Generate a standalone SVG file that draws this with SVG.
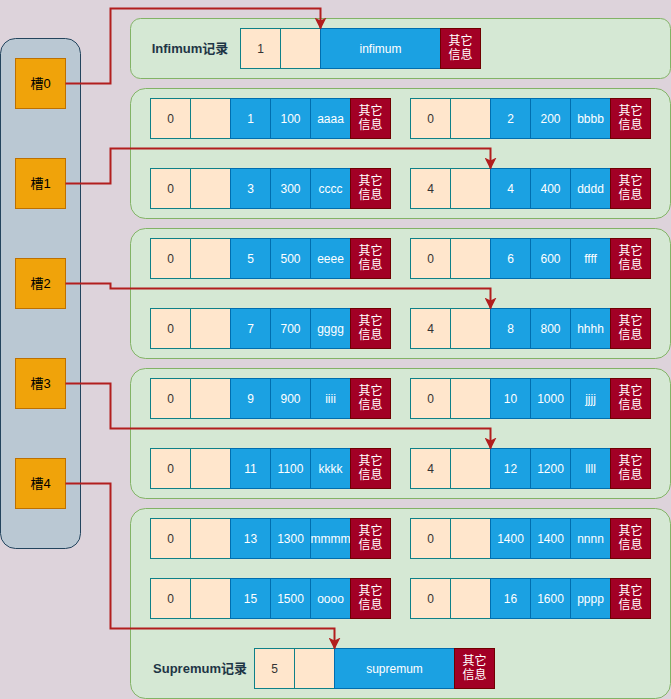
<svg xmlns="http://www.w3.org/2000/svg" width="671" height="699" viewBox="0 0 671 699">
<defs>
<style>
text{font-family:"Liberation Sans","Noto Sans CJK SC",sans-serif;font-size:12px;text-anchor:middle}
.bg{fill:#DDD3DB}
.grp{fill:#d5e8d4;stroke:#82b366;stroke-width:1}
.cont{fill:#bac8d3;stroke:#23445d;stroke-width:1}
.slot{fill:#f0a30a;stroke:#BD7000;stroke-width:1}
.c{fill:#ffe6cc;stroke:#0e8088;stroke-width:1}
.b{fill:#1ba1e2;stroke:#006eaf;stroke-width:1}
.r{fill:#a20025;stroke:#6f0000;stroke-width:1}
.td{fill:#333333}
.tw{fill:#ffffff}
.tl{fill:#1e3545;font-weight:bold;font-size:13px}
.ts{fill:#000000;font-size:13px}
.con{fill:none;stroke:#B21E1E;stroke-width:2;marker-end:url(#arr)}
</style>
<marker id="arr" markerUnits="userSpaceOnUse" markerWidth="12" markerHeight="12" viewBox="0 0 12 12" refX="11" refY="6" orient="auto">
<path d="M0,0 L12,6 L0,12 L3,6 z" fill="#B21E1E"/>
</marker>
</defs>
<rect class="bg" x="0" y="0" width="671" height="699"/>

<g id="slots-container"><rect class="cont" x="0.5" y="38.5" width="80" height="510" rx="15"/></g>
<g id="slot0"><rect class="slot" x="15.5" y="58.5" width="50" height="50"/><text class="ts" x="40.5" y="88">槽0</text></g>
<g id="slot1"><rect class="slot" x="15.5" y="158.5" width="50" height="50"/><text class="ts" x="40.5" y="188">槽1</text></g>
<g id="slot2"><rect class="slot" x="15.5" y="258.5" width="50" height="50"/><text class="ts" x="40.5" y="288">槽2</text></g>
<g id="slot3"><rect class="slot" x="15.5" y="358.5" width="50" height="50"/><text class="ts" x="40.5" y="388">槽3</text></g>
<g id="slot4"><rect class="slot" x="15.5" y="458.5" width="50" height="50"/><text class="ts" x="40.5" y="488">槽4</text></g>

<g id="infimum-group">
<rect class="grp" x="130.5" y="18.5" width="540" height="60" rx="10"/>
<text class="tl" x="190" y="53">Infimum记录</text>
<rect class="c" x="240.5" y="28.5" width="40" height="40"/><text class="td" x="260.5" y="53">1</text>
<rect class="c" x="280.5" y="28.5" width="40" height="40"/>
<rect class="b" x="320.5" y="28.5" width="120" height="40"/><text class="tw" x="380.5" y="53">infimum</text>
<rect class="r" x="440.5" y="28.5" width="40" height="40"/><text class="tw" x="460.5" y="45">其它</text><text class="tw" x="460.5" y="59">信息</text>
</g>

<g id="group1"><rect class="grp" x="130.5" y="88.5" width="540" height="130" rx="15"/></g>
<g id="group2"><rect class="grp" x="130.5" y="228.5" width="540" height="130" rx="15"/></g>
<g id="group3"><rect class="grp" x="130.5" y="368.5" width="540" height="130" rx="15"/></g>
<g id="group4"><rect class="grp" x="130.5" y="508.5" width="540" height="190" rx="15"/></g>

<g id="rec1">
<rect class="c" x="150.5" y="98.5" width="40" height="40"/><text class="td" x="170.5" y="123">0</text>
<rect class="c" x="190.5" y="98.5" width="40" height="40"/>
<rect class="b" x="230.5" y="98.5" width="40" height="40"/><text class="tw" x="250.5" y="123">1</text>
<rect class="b" x="270.5" y="98.5" width="40" height="40"/><text class="tw" x="290.5" y="123">100</text>
<rect class="b" x="310.5" y="98.5" width="40" height="40"/><text class="tw" x="330.5" y="123">aaaa</text>
<rect class="r" x="350.5" y="98.5" width="40" height="40"/><text class="tw" x="370.5" y="115">其它</text><text class="tw" x="370.5" y="129">信息</text>
</g>
<g id="rec2">
<rect class="c" x="410.5" y="98.5" width="40" height="40"/><text class="td" x="430.5" y="123">0</text>
<rect class="c" x="450.5" y="98.5" width="40" height="40"/>
<rect class="b" x="490.5" y="98.5" width="40" height="40"/><text class="tw" x="510.5" y="123">2</text>
<rect class="b" x="530.5" y="98.5" width="40" height="40"/><text class="tw" x="550.5" y="123">200</text>
<rect class="b" x="570.5" y="98.5" width="40" height="40"/><text class="tw" x="590.5" y="123">bbbb</text>
<rect class="r" x="610.5" y="98.5" width="40" height="40"/><text class="tw" x="630.5" y="115">其它</text><text class="tw" x="630.5" y="129">信息</text>
</g>
<g id="rec3">
<rect class="c" x="150.5" y="168.5" width="40" height="40"/><text class="td" x="170.5" y="193">0</text>
<rect class="c" x="190.5" y="168.5" width="40" height="40"/>
<rect class="b" x="230.5" y="168.5" width="40" height="40"/><text class="tw" x="250.5" y="193">3</text>
<rect class="b" x="270.5" y="168.5" width="40" height="40"/><text class="tw" x="290.5" y="193">300</text>
<rect class="b" x="310.5" y="168.5" width="40" height="40"/><text class="tw" x="330.5" y="193">cccc</text>
<rect class="r" x="350.5" y="168.5" width="40" height="40"/><text class="tw" x="370.5" y="185">其它</text><text class="tw" x="370.5" y="199">信息</text>
</g>
<g id="rec4">
<rect class="c" x="410.5" y="168.5" width="40" height="40"/><text class="td" x="430.5" y="193">4</text>
<rect class="c" x="450.5" y="168.5" width="40" height="40"/>
<rect class="b" x="490.5" y="168.5" width="40" height="40"/><text class="tw" x="510.5" y="193">4</text>
<rect class="b" x="530.5" y="168.5" width="40" height="40"/><text class="tw" x="550.5" y="193">400</text>
<rect class="b" x="570.5" y="168.5" width="40" height="40"/><text class="tw" x="590.5" y="193">dddd</text>
<rect class="r" x="610.5" y="168.5" width="40" height="40"/><text class="tw" x="630.5" y="185">其它</text><text class="tw" x="630.5" y="199">信息</text>
</g>

<g id="rec5">
<rect class="c" x="150.5" y="238.5" width="40" height="40"/><text class="td" x="170.5" y="263">0</text>
<rect class="c" x="190.5" y="238.5" width="40" height="40"/>
<rect class="b" x="230.5" y="238.5" width="40" height="40"/><text class="tw" x="250.5" y="263">5</text>
<rect class="b" x="270.5" y="238.5" width="40" height="40"/><text class="tw" x="290.5" y="263">500</text>
<rect class="b" x="310.5" y="238.5" width="40" height="40"/><text class="tw" x="330.5" y="263">eeee</text>
<rect class="r" x="350.5" y="238.5" width="40" height="40"/><text class="tw" x="370.5" y="255">其它</text><text class="tw" x="370.5" y="269">信息</text>
</g>
<g id="rec6">
<rect class="c" x="410.5" y="238.5" width="40" height="40"/><text class="td" x="430.5" y="263">0</text>
<rect class="c" x="450.5" y="238.5" width="40" height="40"/>
<rect class="b" x="490.5" y="238.5" width="40" height="40"/><text class="tw" x="510.5" y="263">6</text>
<rect class="b" x="530.5" y="238.5" width="40" height="40"/><text class="tw" x="550.5" y="263">600</text>
<rect class="b" x="570.5" y="238.5" width="40" height="40"/><text class="tw" x="590.5" y="263">ffff</text>
<rect class="r" x="610.5" y="238.5" width="40" height="40"/><text class="tw" x="630.5" y="255">其它</text><text class="tw" x="630.5" y="269">信息</text>
</g>
<g id="rec7">
<rect class="c" x="150.5" y="308.5" width="40" height="40"/><text class="td" x="170.5" y="333">0</text>
<rect class="c" x="190.5" y="308.5" width="40" height="40"/>
<rect class="b" x="230.5" y="308.5" width="40" height="40"/><text class="tw" x="250.5" y="333">7</text>
<rect class="b" x="270.5" y="308.5" width="40" height="40"/><text class="tw" x="290.5" y="333">700</text>
<rect class="b" x="310.5" y="308.5" width="40" height="40"/><text class="tw" x="330.5" y="333">gggg</text>
<rect class="r" x="350.5" y="308.5" width="40" height="40"/><text class="tw" x="370.5" y="325">其它</text><text class="tw" x="370.5" y="339">信息</text>
</g>
<g id="rec8">
<rect class="c" x="410.5" y="308.5" width="40" height="40"/><text class="td" x="430.5" y="333">4</text>
<rect class="c" x="450.5" y="308.5" width="40" height="40"/>
<rect class="b" x="490.5" y="308.5" width="40" height="40"/><text class="tw" x="510.5" y="333">8</text>
<rect class="b" x="530.5" y="308.5" width="40" height="40"/><text class="tw" x="550.5" y="333">800</text>
<rect class="b" x="570.5" y="308.5" width="40" height="40"/><text class="tw" x="590.5" y="333">hhhh</text>
<rect class="r" x="610.5" y="308.5" width="40" height="40"/><text class="tw" x="630.5" y="325">其它</text><text class="tw" x="630.5" y="339">信息</text>
</g>

<g id="rec9">
<rect class="c" x="150.5" y="378.5" width="40" height="40"/><text class="td" x="170.5" y="403">0</text>
<rect class="c" x="190.5" y="378.5" width="40" height="40"/>
<rect class="b" x="230.5" y="378.5" width="40" height="40"/><text class="tw" x="250.5" y="403">9</text>
<rect class="b" x="270.5" y="378.5" width="40" height="40"/><text class="tw" x="290.5" y="403">900</text>
<rect class="b" x="310.5" y="378.5" width="40" height="40"/><text class="tw" x="330.5" y="403">iiii</text>
<rect class="r" x="350.5" y="378.5" width="40" height="40"/><text class="tw" x="370.5" y="395">其它</text><text class="tw" x="370.5" y="409">信息</text>
</g>
<g id="rec10">
<rect class="c" x="410.5" y="378.5" width="40" height="40"/><text class="td" x="430.5" y="403">0</text>
<rect class="c" x="450.5" y="378.5" width="40" height="40"/>
<rect class="b" x="490.5" y="378.5" width="40" height="40"/><text class="tw" x="510.5" y="403">10</text>
<rect class="b" x="530.5" y="378.5" width="40" height="40"/><text class="tw" x="550.5" y="403">1000</text>
<rect class="b" x="570.5" y="378.5" width="40" height="40"/><text class="tw" x="590.5" y="403">jjjj</text>
<rect class="r" x="610.5" y="378.5" width="40" height="40"/><text class="tw" x="630.5" y="395">其它</text><text class="tw" x="630.5" y="409">信息</text>
</g>
<g id="rec11">
<rect class="c" x="150.5" y="448.5" width="40" height="40"/><text class="td" x="170.5" y="473">0</text>
<rect class="c" x="190.5" y="448.5" width="40" height="40"/>
<rect class="b" x="230.5" y="448.5" width="40" height="40"/><text class="tw" x="250.5" y="473">11</text>
<rect class="b" x="270.5" y="448.5" width="40" height="40"/><text class="tw" x="290.5" y="473">1100</text>
<rect class="b" x="310.5" y="448.5" width="40" height="40"/><text class="tw" x="330.5" y="473">kkkk</text>
<rect class="r" x="350.5" y="448.5" width="40" height="40"/><text class="tw" x="370.5" y="465">其它</text><text class="tw" x="370.5" y="479">信息</text>
</g>
<g id="rec12">
<rect class="c" x="410.5" y="448.5" width="40" height="40"/><text class="td" x="430.5" y="473">4</text>
<rect class="c" x="450.5" y="448.5" width="40" height="40"/>
<rect class="b" x="490.5" y="448.5" width="40" height="40"/><text class="tw" x="510.5" y="473">12</text>
<rect class="b" x="530.5" y="448.5" width="40" height="40"/><text class="tw" x="550.5" y="473">1200</text>
<rect class="b" x="570.5" y="448.5" width="40" height="40"/><text class="tw" x="590.5" y="473">llll</text>
<rect class="r" x="610.5" y="448.5" width="40" height="40"/><text class="tw" x="630.5" y="465">其它</text><text class="tw" x="630.5" y="479">信息</text>
</g>

<g id="rec13">
<rect class="c" x="150.5" y="518.5" width="40" height="40"/><text class="td" x="170.5" y="543">0</text>
<rect class="c" x="190.5" y="518.5" width="40" height="40"/>
<rect class="b" x="230.5" y="518.5" width="40" height="40"/><text class="tw" x="250.5" y="543">13</text>
<rect class="b" x="270.5" y="518.5" width="40" height="40"/><text class="tw" x="290.5" y="543">1300</text>
<rect class="b" x="310.5" y="518.5" width="40" height="40"/><text class="tw" x="330.5" y="543">mmmm</text>
<rect class="r" x="350.5" y="518.5" width="40" height="40"/><text class="tw" x="370.5" y="535">其它</text><text class="tw" x="370.5" y="549">信息</text>
</g>
<g id="rec14">
<rect class="c" x="410.5" y="518.5" width="40" height="40"/><text class="td" x="430.5" y="543">0</text>
<rect class="c" x="450.5" y="518.5" width="40" height="40"/>
<rect class="b" x="490.5" y="518.5" width="40" height="40"/><text class="tw" x="510.5" y="543">1400</text>
<rect class="b" x="530.5" y="518.5" width="40" height="40"/><text class="tw" x="550.5" y="543">1400</text>
<rect class="b" x="570.5" y="518.5" width="40" height="40"/><text class="tw" x="590.5" y="543">nnnn</text>
<rect class="r" x="610.5" y="518.5" width="40" height="40"/><text class="tw" x="630.5" y="535">其它</text><text class="tw" x="630.5" y="549">信息</text>
</g>
<g id="rec15">
<rect class="c" x="150.5" y="578.5" width="40" height="40"/><text class="td" x="170.5" y="603">0</text>
<rect class="c" x="190.5" y="578.5" width="40" height="40"/>
<rect class="b" x="230.5" y="578.5" width="40" height="40"/><text class="tw" x="250.5" y="603">15</text>
<rect class="b" x="270.5" y="578.5" width="40" height="40"/><text class="tw" x="290.5" y="603">1500</text>
<rect class="b" x="310.5" y="578.5" width="40" height="40"/><text class="tw" x="330.5" y="603">oooo</text>
<rect class="r" x="350.5" y="578.5" width="40" height="40"/><text class="tw" x="370.5" y="595">其它</text><text class="tw" x="370.5" y="609">信息</text>
</g>
<g id="rec16">
<rect class="c" x="410.5" y="578.5" width="40" height="40"/><text class="td" x="430.5" y="603">0</text>
<rect class="c" x="450.5" y="578.5" width="40" height="40"/>
<rect class="b" x="490.5" y="578.5" width="40" height="40"/><text class="tw" x="510.5" y="603">16</text>
<rect class="b" x="530.5" y="578.5" width="40" height="40"/><text class="tw" x="550.5" y="603">1600</text>
<rect class="b" x="570.5" y="578.5" width="40" height="40"/><text class="tw" x="590.5" y="603">pppp</text>
<rect class="r" x="610.5" y="578.5" width="40" height="40"/><text class="tw" x="630.5" y="595">其它</text><text class="tw" x="630.5" y="609">信息</text>
</g>

<g id="supremum">
<text class="tl" x="200" y="673">Supremum记录</text>
<rect class="c" x="254.5" y="648.5" width="40" height="40"/><text class="td" x="274.5" y="673">5</text>
<rect class="c" x="294.5" y="648.5" width="40" height="40"/>
<rect class="b" x="334.5" y="648.5" width="120" height="40"/><text class="tw" x="394.5" y="673">supremum</text>
<rect class="r" x="454.5" y="648.5" width="40" height="40"/><text class="tw" x="474.5" y="665">其它</text><text class="tw" x="474.5" y="679">信息</text>
</g>

<g id="connectors">
<path class="con" d="M65.5,83.5 H110.5 V8.5 H320.5 V28.5"/>
<path class="con" d="M65.5,183.5 H110.5 V148.5 H490.5 V168.5"/>
<path class="con" d="M65.5,283.5 H110.5 V288.5 H490.5 V308.5"/>
<path class="con" d="M65.5,383.5 H110.5 V428.5 H490.5 V448.5"/>
<path class="con" d="M65.5,483.5 H110.5 V628.5 H334.5 V648.5"/>
</g>
</svg>
